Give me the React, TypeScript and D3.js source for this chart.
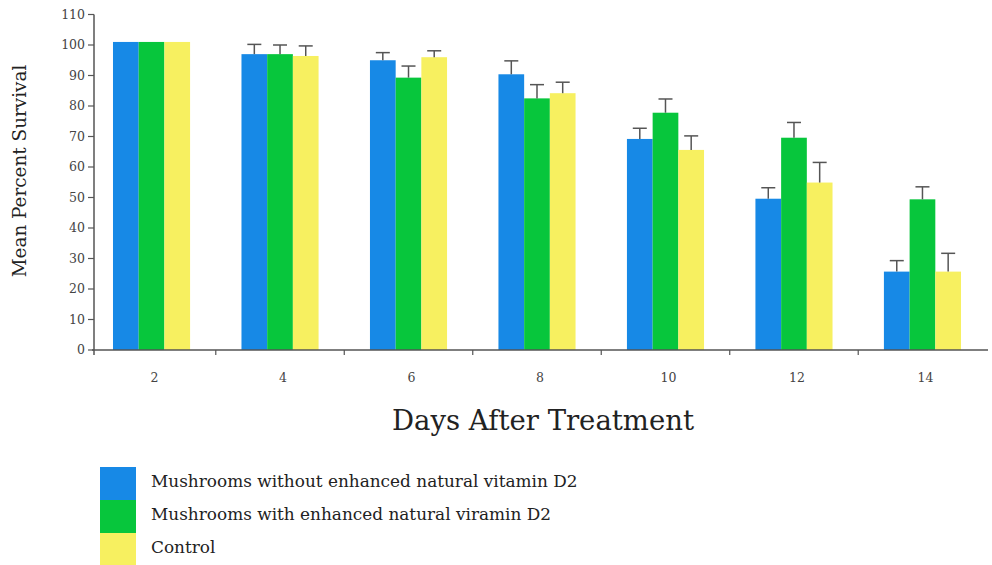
import { useEffect, useRef } from "react";
import * as d3 from "d3";

const days = ["2", "4", "6", "8", "10", "12", "14"];
const seriesNames = [
  "Mushrooms without enhanced natural vitamin D2",
  "Mushrooms with enhanced natural viramin D2",
  "Control",
];
const seriesColors = ["#1789e6", "#07c63c", "#f7f060"];
const withoutD2 = [101, 97, 95, 90.4, 69.2, 49.6, 25.7];
const withD2 = [101, 97, 89.3, 82.5, 77.8, 69.6, 49.4];
const control = [101, 96.4, 96, 84.2, 65.6, 54.9, 25.7];
const withoutD2Err = [0, 3.2, 2.5, 4.4, 3.5, 3.6, 3.6];
const withD2Err = [0, 3, 3.8, 4.5, 4.5, 5, 4.1];
const controlErr = [0, 3.3, 2.1, 3.6, 4.6, 6.6, 6];
const yTicks = [0, 10, 20, 30, 40, 50, 60, 70, 80, 90, 100, 110];

const font = "'DejaVu Serif', serif";

const App = () => {
  const ref = useRef<SVGSVGElement>(null);

  useEffect(() => {
    const svg = d3.select(ref.current);
    svg.selectAll("*").remove();

    const values = [withoutD2, withD2, control];
    const errors = [withoutD2Err, withD2Err, controlErr];

    const x = d3
      .scaleBand()
      .domain(days)
      .range([95, 979])
      .paddingInner(0.4)
      .paddingOuter(0.14);
    const xSub = d3
      .scaleBand()
      .domain(seriesNames)
      .range([0, x.bandwidth()]);
    const y = d3.scaleLinear().domain([0, 110]).range([350, 14.5]);

    // y axis
    const yAxis = svg.append("g").attr("transform", "translate(94,0)");
    yAxis
      .append("line")
      .attr("y1", y(110))
      .attr("y2", y(0) + 5)
      .attr("stroke", "#555")
      .attr("stroke-width", 1.5);
    yTicks.forEach((t) => {
      yAxis
        .append("line")
        .attr("x1", -6)
        .attr("x2", 0)
        .attr("y1", y(t))
        .attr("y2", y(t))
        .attr("stroke", "#555")
        .attr("stroke-width", 1.2);
      yAxis
        .append("text")
        .attr("x", -9)
        .attr("y", y(t))
        .attr("dy", "0.35em")
        .attr("text-anchor", "end")
        .attr("font-family", font)
        .attr("font-size", 12.5)
        .attr("fill", "#444")
        .text(t);
    });

    // bars
    seriesNames.forEach((name, si) => {
      const g = svg.append("g");
      days.forEach((d, i) => {
        const v = values[si][i];
        const bx = (x(d) ?? 0) + (xSub(name) ?? 0);
        g.append("rect")
          .attr("x", bx)
          .attr("y", y(v))
          .attr("width", xSub.bandwidth())
          .attr("height", y(0) - y(v))
          .attr("fill", seriesColors[si]);
        const e = errors[si][i];
        if (e > 0) {
          const cx = bx + xSub.bandwidth() / 2;
          g.append("line")
            .attr("x1", cx)
            .attr("x2", cx)
            .attr("y1", y(v))
            .attr("y2", y(v + e))
            .attr("stroke", "#555")
            .attr("stroke-width", 1.5);
          g.append("line")
            .attr("x1", cx - 7)
            .attr("x2", cx + 7)
            .attr("y1", y(v + e))
            .attr("y2", y(v + e))
            .attr("stroke", "#555")
            .attr("stroke-width", 1.5);
        }
      });
    });

    // x axis
    const step = x.step();
    const xAxis = svg.append("g");
    xAxis
      .append("line")
      .attr("x1", 92)
      .attr("x2", 988)
      .attr("y1", y(0))
      .attr("y2", y(0))
      .attr("stroke", "#555")
      .attr("stroke-width", 1.5);
    days.slice(1).forEach((d) => {
      const sx = (x(d) ?? 0) - (step * x.paddingInner()) / 2;
      xAxis
        .append("line")
        .attr("x1", sx)
        .attr("x2", sx)
        .attr("y1", y(0))
        .attr("y2", y(0) + 5)
        .attr("stroke", "#555")
        .attr("stroke-width", 1.2);
    });
    days.forEach((d) => {
      xAxis
        .append("text")
        .attr("x", (x(d) ?? 0) + x.bandwidth() / 2 + 3)
        .attr("y", 382)
        .attr("text-anchor", "middle")
        .attr("font-family", font)
        .attr("font-size", 12.5)
        .attr("fill", "#444")
        .text(d);
    });

    // axis titles
    svg
      .append("text")
      .attr("x", 543)
      .attr("y", 430)
      .attr("text-anchor", "middle")
      .attr("font-family", font)
      .attr("font-size", 27.5)
      .attr("fill", "#222")
      .text("Days After Treatment");
    svg
      .append("text")
      .attr("transform", "translate(26,171) rotate(-90)")
      .attr("text-anchor", "middle")
      .attr("font-family", font)
      .attr("font-size", 18.4)
      .attr("fill", "#222")
      .text("Mean Percent Survival");

    // legend
    const legend = svg.append("g").attr("transform", "translate(100,467)");
    seriesNames.forEach((name, i) => {
      legend
        .append("rect")
        .attr("x", 0)
        .attr("y", i * 33)
        .attr("width", 36)
        .attr("height", 33)
        .attr("fill", seriesColors[i]);
      legend
        .append("text")
        .attr("x", 51)
        .attr("y", i * 33 + 20)
        .attr("font-family", font)
        .attr("font-size", 16.9)
        .attr("fill", "#222")
        .text(name);
    });
  }, []);

  return (
    <svg
      ref={ref}
      width={992}
      height={565}
      style={{ position: "absolute", left: 0, top: 0, background: "#fff" }}
    />
  );
};

export default App;
